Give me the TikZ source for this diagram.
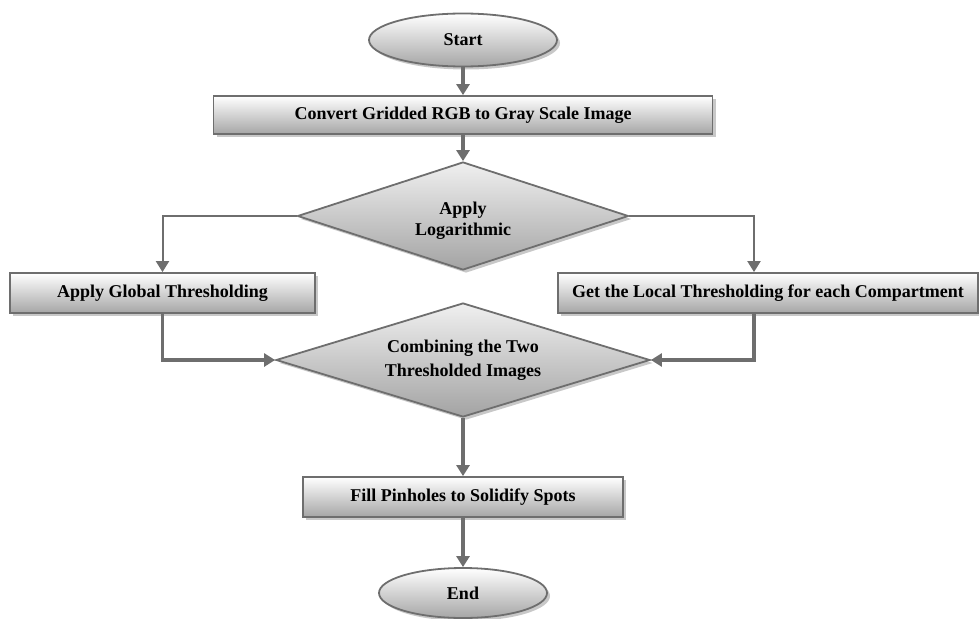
\documentclass[tikz,border=0pt]{standalone}
\usepackage{fontspec}
\setmainfont{Liberation Serif}
\usetikzlibrary{shapes.geometric,arrows.meta,shadows,calc}
\definecolor{lg}{RGB}{110,110,110}
\definecolor{shd}{RGB}{200,200,200}
\begin{document}
\begin{tikzpicture}[x=1pt,y=-1pt,
  txt/.style={font=\fontsize{18}{21}\selectfont\bfseries, text=black, align=center},
  base/.style={draw=lg, line width=1.8pt, top color=white, bottom color=black!35,
    drop shadow={shadow xshift=3pt,shadow yshift=-3pt,fill=shd,opacity=1}, txt},
  term/.style={base, ellipse, inner sep=0pt},
  proc/.style={base, rectangle, inner sep=0pt},
  dec/.style={base, diamond, inner sep=0pt, top color=black!6, bottom color=black!36},
  arr/.style={draw=lg, line width=3.5pt, -{Triangle[width=13pt,length=11pt]}},
  thinarr/.style={arr, line width=2pt}]
\useasboundingbox (0,0) rectangle (979,618);

\node[term, minimum width=188pt, minimum height=53pt] (start) at (463,40) {Start};
\node[proc, minimum width=499pt, minimum height=38pt] (convert) at (463,115) {Convert Gridded RGB to Gray Scale Image};
\node[dec, minimum width=331pt, minimum height=108pt] (d1) at (463,216) {};
\node[txt, font=\fontsize{18}{21}\selectfont\bfseries] (d1t) at (463,221) {Apply\\Logarithmic};
\node[proc, minimum width=305pt, minimum height=40pt] (gbox) at (162.5,293) {Apply Global Thresholding};
\node[proc, minimum width=420pt, minimum height=40pt] (lbox) at (768,293) {Get the Local Thresholding for each Compartment};
\node[dec, minimum width=374pt, minimum height=114pt] (d2) at (463,360) {};
\node[txt, font=\fontsize{18}{24}\selectfont\bfseries] (d2t) at (463,360) {Combining the Two\\Thresholded Images};
\node[proc, minimum width=320pt, minimum height=40pt] (fill) at (463,497) {Fill Pinholes to Solidify Spots};
\node[term, minimum width=168pt, minimum height=50pt] (end) at (463,593) {End};

\coordinate (lin) at (754,0);

\draw[arr] (start) -- (convert);
\draw[arr] (convert) -- (d1);
\draw[thinarr] (d1.west) -| (gbox.north);
\draw[thinarr] (d1.east) -| (lbox.north -| lin);
\draw[arr] (gbox.south) |- (d2.west);
\draw[arr] (lbox.south -| lin) |- (d2.east);
\draw[arr] (d2) -- (fill);
\draw[arr] (fill) -- (end);
\end{tikzpicture}
\end{document}
